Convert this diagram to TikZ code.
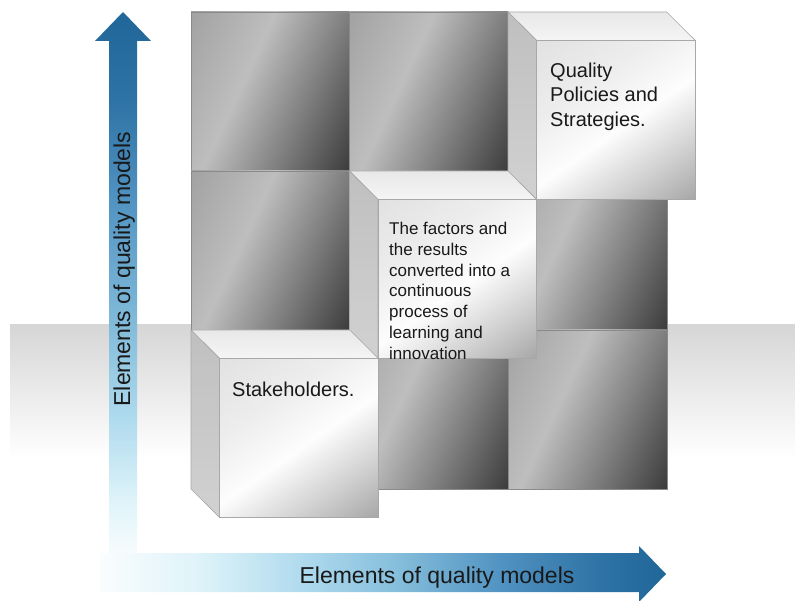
\documentclass[tikz,border=0pt]{standalone}
\usepackage{tikz}
\usepackage{fontspec}
\setmainfont{Liberation Sans}

% colours of the tiles, cubes and axis arrows
\definecolor{tileA}{HTML}{A3A3A3}
\definecolor{tileB}{HTML}{BEBEBE}
\definecolor{tileC}{HTML}{7E7E7E}
\definecolor{tileD}{HTML}{3C3C3C}
\definecolor{tileedge}{HTML}{8A8A8A}
\definecolor{frontA}{HTML}{E2E2E2}
\definecolor{frontB}{HTML}{EDEDED}
\definecolor{frontC}{HTML}{FDFDFD}
\definecolor{frontD}{HTML}{D0D0D0}
\definecolor{frontE}{HTML}{A6A6A6}
\definecolor{cubeedge}{HTML}{A8A8A8}
\definecolor{bandgrey}{HTML}{D6D6D6}
\definecolor{axA}{HTML}{FAFDFE}
\definecolor{axB}{HTML}{DEF3F9}
\definecolor{axC}{HTML}{B0DBEE}
\definecolor{axD}{HTML}{84BDDB}
\definecolor{axE}{HTML}{5193C2}
\definecolor{axF}{HTML}{2E73A5}
\definecolor{axG}{HTML}{216698}

% diagonal gradient of a flat tile
\pgfdeclarehorizontalshading{tileshade}{100bp}{%
  color(0bp)=(tileA); color(18bp)=(tileA); color(41bp)=(tileB);
  color(62bp)=(tileC); color(83bp)=(tileD); color(100bp)=(tileD)}
% glossy gradient of a cube's front face
\pgfdeclarehorizontalshading{frontshade}{100bp}{%
  color(0bp)=(frontA); color(16bp)=(frontA); color(36bp)=(frontB);
  color(53bp)=(frontC); color(70bp)=(frontD); color(85bp)=(frontE);
  color(100bp)=(frontE)}
% vertical axis: dark blue at the head, fading to white at the foot
\pgfdeclareverticalshading{vaxisshade}{100bp}{%
  color(0bp)=(white); color(25bp)=(white); color(27.6bp)=(axA);
  color(32.8bp)=(axB); color(39.7bp)=(axC); color(47.5bp)=(axD);
  color(58.7bp)=(axE); color(67.4bp)=(axF); color(75bp)=(axG);
  color(100bp)=(axG)}
% horizontal axis: white at the foot, dark blue at the head
\pgfdeclarehorizontalshading{haxisshade}{100bp}{%
  color(0bp)=(white); color(25bp)=(axA); color(33.8bp)=(axB);
  color(42.7bp)=(axC); color(51.5bp)=(axD); color(60.3bp)=(axE);
  color(69.2bp)=(axF); color(75bp)=(axG); color(100bp)=(axG)}

\begin{document}
\begin{tikzpicture}[x=1pt,y=-1pt,
  tileface/.style={shade, shading=tileshade, shading angle=-25,
    draw=tileedge, line width=0.8pt},
  cubefront/.style={shade, shading=frontshade, shading angle=-55,
    draw=cubeedge, line width=0.6pt},
  cubetop/.style={top color=black!9, bottom color=black!4,
    draw=cubeedge, line width=0.6pt},
  cubeside/.style={top color=black!25, bottom color=black!18,
    draw=cubeedge, line width=0.6pt},
  boxtext/.style={inner sep=0pt, align=left, text=black!90},
  axistext/.style={inner sep=0pt, text=black!90,
    font=\fontsize{23}{27}\selectfont},
]
\useasboundingbox (0,0) rectangle (795,601);

% grey floor band
\shade[top color=bandgrey, bottom color=white] (10,325) rectangle (795,458);

% vertical axis arrow
\shade[shading=vaxisshade]
  (109,590) -- (109,41) -- (95,41) -- (123,12) -- (151,41) -- (137,41)
  -- (137,590) -- cycle;
% horizontal axis arrow
\shade[shading=haxisshade]
  (100,553) -- (639,553) -- (639,546) -- (666,574) -- (639,602)
  -- (639,592) -- (100,592) -- cycle;

\node[axistext, rotate=90, anchor=base] (yaxis) at (130,269)
  {Elements of quality models};
\node[axistext, anchor=base] (xaxis) at (437,583)
  {Elements of quality models};

% flat tiles of the 3x3 grid
\foreach \c/\r in {0/0,1/0,0/1,2/1,1/2,2/2}
  \path[tileface] ({191+\c*158.67},{12+\r*159}) rectangle ++(158.67,159);

% raised cubes on the diagonal
\foreach \X/\Y in {508/12, 349.33/171, 191/330} {
  \path[cubetop] (\X,\Y) -- ++(158.67,0) -- ++(28.67,28.5)
    -- ++(-158.67,0) -- cycle;
  \path[cubeside] (\X,\Y) -- ++(28.67,28.5) -- ++(0,159)
    -- ++(-28.67,-28.5) -- cycle;
  \path[cubefront] (\X+28.67,\Y+28.5) rectangle ++(158.67,159);
}

\node[boxtext, anchor=north west, font=\fontsize{20}{24.5}\selectfont]
  (policies) at (550,62.5) {Quality\\Policies and\\Strategies.};
\node[boxtext, anchor=north west, font=\fontsize{17}{20.8}\selectfont]
  (learning) at (389,222) {The factors and\\the results\\converted into a\\continuous\\process of\\learning and\\innovation};
\node[boxtext, anchor=base west, font=\fontsize{20}{24.5}\selectfont]
  (stake) at (232,396) {Stakeholders.};
\end{tikzpicture}
\end{document}
